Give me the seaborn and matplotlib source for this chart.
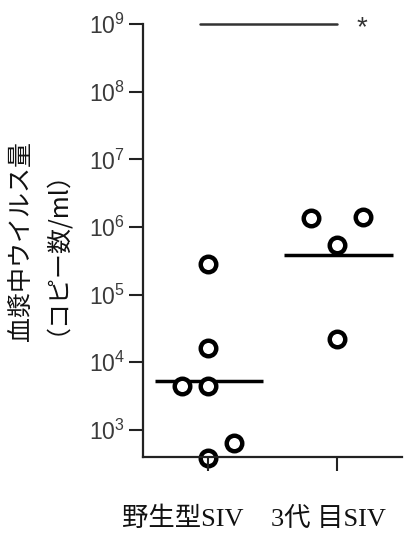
import numpy as np
import pandas as pd
import matplotlib
matplotlib.use('Agg')
import matplotlib.pyplot as plt
import matplotlib.transforms as mtransforms
from matplotlib.ticker import NullLocator
import seaborn as sns

# ---- data -------------------------------------------------------------
groups = ['野生型SIV', '3代 目SIV']
wild_type = [2.8e5, 1.6e4, 4.5e3, 4.5e3, 6.5e2, 3.9e2]
passage3 = [1.35e6, 1.4e6, 5.4e5, 2.2e4]
ytick_exponents = [3, 4, 5, 6, 7, 8, 9]
ylabel_text = '血漿中ウイルス量\n（コピー数/ml）'
sig_mark = '*'

# ---- style ------------------------------------------------------------
sns.set_style('ticks')
plt.rcParams['font.family'] = ['Liberation Sans', 'Noto Sans CJK JP']
plt.rcParams['mathtext.fontset'] = 'custom'
plt.rcParams['mathtext.rm'] = 'Liberation Sans'
plt.rcParams['mathtext.it'] = 'Liberation Sans:italic'
plt.rcParams['mathtext.bf'] = 'Liberation Sans:bold'

# horizontal spread of the points inside each group (category units)
spread = [[0, 0, -0.2, 0, 0.2, 0], [-0.2, 0.2, 0, 0]]

series = [wild_type, passage3]
rows = []
for gi, (name, vals) in enumerate(zip(groups, series)):
    for v, dx in zip(vals, spread[gi]):
        rows.append({'group': name, 'x': gi + dx, 'value': v})
df = pd.DataFrame(rows)

fig = plt.figure(figsize=(4.17, 5.35), dpi=100)
ax = fig.add_axes([0.3429, 0.1458, 0.6211, 0.8093])
ax.set_yscale('log')
ax.set_axisbelow(False)

# geometric-mean bar for each group
for gi, vals in enumerate(series):
    gm = 10 ** np.mean(np.log10(vals))
    ax.plot([gi - 0.41, gi + 0.43], [gm, gm], color='black', lw=2.5,
            solid_capstyle='butt', zorder=1)

sns.scatterplot(data=df, x='x', y='value', ax=ax, marker='o', s=125,
                color='white', edgecolor='black', linewidth=3.2,
                zorder=2, clip_on=False, legend=False)

# significance bracket
ax.plot([-0.06, 1.0], [1e9, 1e9], color='#333333', lw=1.8, clip_on=False)
ax.annotate(sig_mark, xy=(1.19, 1e9), xytext=(0, -3),
            textcoords='offset points', ha='center', va='center',
            fontsize=20, color='#333333', annotation_clip=False)

ax.set_xlim(-0.5, 1.5)
ax.set_ylim(398, 1e9)
ax.set_yticks([10.0 ** e for e in ytick_exponents])
ax.set_yticklabels([f'$10^{{{e}}}$' for e in ytick_exponents])
ax.yaxis.set_minor_locator(NullLocator())

# category ticks with their names set a little left of each tick
ax.set_xticks([0, 1])
ax.set_xticklabels([])
label_shift = [-0.19, -0.07]
xlab_trans = mtransforms.blended_transform_factory(ax.transData, ax.transAxes)
for gi, (name, dx) in enumerate(zip(groups, label_shift)):
    ax.text(gi + dx, -0.143, name, transform=xlab_trans, ha='center',
            va='center', fontsize=19, color='#111111',
            family=['Liberation Serif', 'Noto Sans CJK JP'])

ax.tick_params(axis='both', direction='out', length=10, width=1.5,
               color='#222222')
ax.tick_params(axis='y', labelsize=16.5, labelcolor='#3a3a3a', pad=3)

ax.set_xlabel('')
ax.set_ylabel(ylabel_text, fontsize=18, linespacing=0.85,
              family=['Noto Sans CJK JP'], color='#111111')
ax.yaxis.set_label_coords(-0.333, 0.5)

sns.despine(ax=ax)
for side in ['left', 'bottom']:
    ax.spines[side].set_linewidth(1.6)
    ax.spines[side].set_color('#222222')

fig.savefig('out.png', dpi=100)
